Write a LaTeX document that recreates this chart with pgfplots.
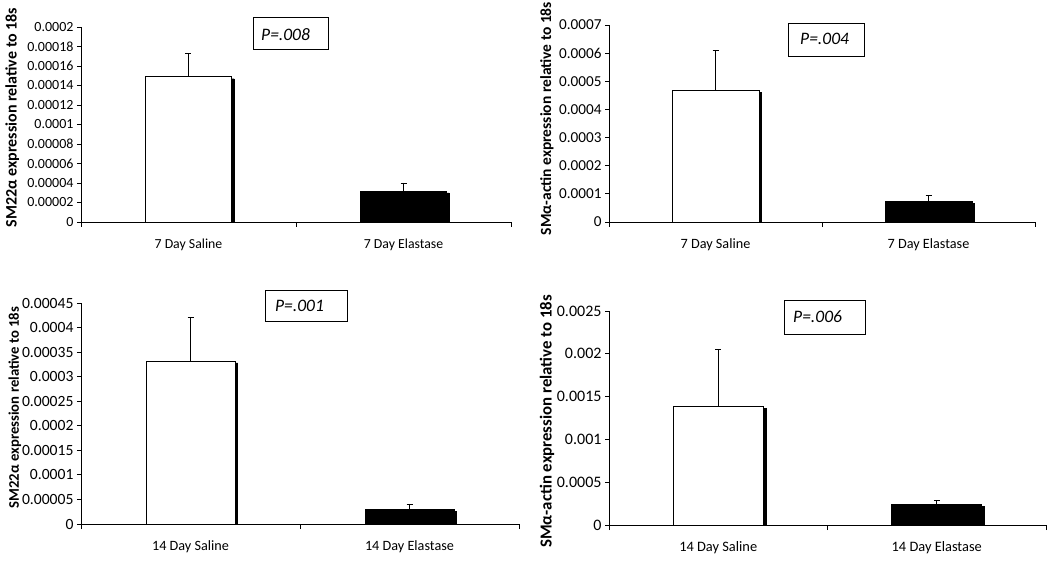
\documentclass[border=0pt]{standalone}
\usepackage{fontspec}
\setmainfont{Carlito}
\usepackage{pgfplots}
\pgfplotsset{compat=1.18}
\pgfplotsset{
  panel/.style={
    scale only axis, ymin=0, xmin=-0.5, xmax=1.5, anchor=south west,
    axis x line=bottom, axis y line=left,
    axis line style={-, line width=0.8pt, black},
    xtick={0,1}, minor xtick={-0.5,0.5,1.5},
    major x tick style={draw=none},
    minor x tick style={line width=0.8pt, black},
    ytick style={line width=0.8pt, black},
    tick align=outside, major tick length=4pt, minor tick length=5pt,
    scaled y ticks=false,
    yticklabel style={/pgf/number format/fixed, /pgf/number format/precision=5,
      /pgf/number format/assume math mode=true},
    xticklabel style={yshift=-9pt},
    ybar,
    error bars/y dir=plus, error bars/y explicit,
    error bars/error bar style={line width=0.8pt, black},
    error bars/error mark options={rotate=90, mark size=3pt, line width=0.8pt, black},
  },
  shadowbar/.style={fill=black, draw=black, bar shift=2.5pt, yshift=-2pt, forget plot},
  salinebar/.style={fill=white, draw=black, line width=0.8pt, bar shift=0pt},
  elastbar/.style={fill=black, draw=black, line width=0.8pt, bar shift=0pt},
}
\begin{document}
\begin{tikzpicture}
\path[use as bounding box] (0,0) rectangle (1050pt,563pt);

% Panel 1
\begin{axis}[panel, at={(81pt,341pt)}, width=430pt, height=195pt, bar width=86pt,
  ymax=0.0002, ytick={0,0.00002,0.00004,0.00006,0.00008,0.0001,0.00012,0.00014,0.00016,0.00018,0.0002},
  yticklabel style={font=\fontsize{14}{16}\selectfont},
  xticklabels={7 Day Saline, 7 Day Elastase},
  xticklabel style={font=\fontsize{13.8}{15}\selectfont},
  ylabel={SM22α expression relative to 18s},
  ylabel style={font=\bfseries\fontsize{16}{18}\selectfont, at={(axis description cs:-0.160,0.536)}, anchor=center}]
\addplot[shadowbar] coordinates {(0,0.000149) (1,0.0000318)};
\addplot[salinebar] coordinates {(0,0.000149) +- (0,0.000024)};
\addplot[elastbar] coordinates {(1,0.0000318) +- (0,0.0000082)};
\end{axis}

% Panel 2
\begin{axis}[panel, at={(609pt,341pt)}, width=426pt, height=197pt, bar width=87pt,
  ymax=0.0007, ytick={0,0.0001,0.0002,0.0003,0.0004,0.0005,0.0006,0.0007},
  yticklabel style={font=\fontsize{15.2}{17}\selectfont},
  xticklabels={7 Day Saline, 7 Day Elastase},
  xticklabel style={font=\fontsize{14.2}{16}\selectfont},
  ylabel={SMα-actin expression relative to 18s},
  ylabel style={font=\bfseries\fontsize{15.5}{17}\selectfont, at={(axis description cs:-0.146,0.525)}, anchor=center}]
\addplot[shadowbar] coordinates {(0,0.000467) (1,0.0000746)};
\addplot[salinebar] coordinates {(0,0.000467) +- (0,0.000141)};
\addplot[elastbar] coordinates {(1,0.0000746) +- (0,0.0000213)};
\end{axis}

% Panel 3
\begin{axis}[panel, at={(81pt,39pt)}, width=438pt, height=221pt, bar width=89pt,
  ymax=0.00045, ytick={0,0.00005,0.0001,0.00015,0.0002,0.00025,0.0003,0.00035,0.0004,0.00045},
  yticklabel style={font=\fontsize{15.6}{17}\selectfont},
  xticklabels={14 Day Saline, 14 Day Elastase},
  xticklabel style={font=\fontsize{14.2}{16}\selectfont},
  ylabel={SM22α expression relative to 18s},
  ylabel style={font=\bfseries\fontsize{14.7}{16}\selectfont, at={(axis description cs:-0.151,0.527)}, anchor=center}]
\addplot[shadowbar] coordinates {(0,0.000332) (1,0.0000305)};
\addplot[salinebar] coordinates {(0,0.000332) +- (0,0.000089)};
\addplot[elastbar] coordinates {(1,0.0000305) +- (0,0.0000102)};
\end{axis}

% Panel 4
\begin{axis}[panel, at={(609pt,38pt)}, width=437pt, height=214pt, bar width=90pt,
  ymax=0.0025, ytick={0,0.0005,0.001,0.0015,0.002,0.0025},
  yticklabel style={font=\fontsize{16}{18}\selectfont},
  xticklabels={14 Day Saline, 14 Day Elastase},
  xticklabel style={font=\fontsize{14.4}{16}\selectfont},
  ylabel={SMα-actin expression relative to 18s},
  ylabel style={font=\bfseries\fontsize{16.8}{18}\selectfont, at={(axis description cs:-0.142,0.484)}, anchor=center}]
\addplot[shadowbar] coordinates {(0,0.00139) (1,0.000245)};
\addplot[salinebar] coordinates {(0,0.00139) +- (0,0.000666)};
\addplot[elastbar] coordinates {(1,0.000245) +- (0,0.000045)};
\end{axis}

% P-value boxes
\draw[line width=0.8pt] (253pt,514pt) rectangle (328pt,546pt);
\node[anchor=west, inner sep=0pt, font=\itshape\fontsize{17.5}{19}\selectfont] at (261pt,528pt) {P=.008};
\draw[line width=0.8pt] (788pt,507pt) rectangle (864pt,540pt);
\node[anchor=west, inner sep=0pt, font=\itshape\fontsize{17.5}{19}\selectfont] at (800pt,524pt) {P=.004};
\draw[line width=0.8pt] (265pt,242pt) rectangle (347pt,273pt);
\node[anchor=west, inner sep=0pt, font=\itshape\fontsize{17.5}{19}\selectfont] at (275pt,257pt) {P=.001};
\draw[line width=0.8pt] (784pt,229pt) rectangle (865pt,263pt);
\node[anchor=west, inner sep=0pt, font=\itshape\fontsize{17.5}{19}\selectfont] at (793pt,246pt) {P=.006};
\end{tikzpicture}
\end{document}
